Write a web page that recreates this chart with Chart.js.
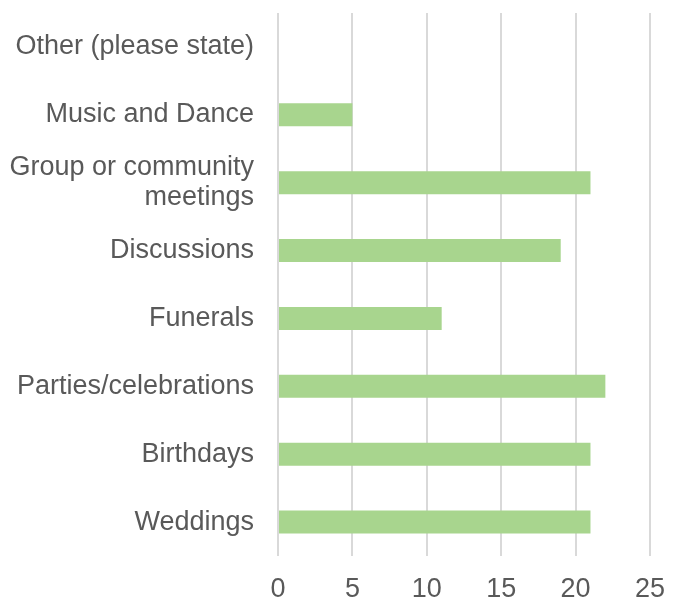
<!DOCTYPE html>
<html>
<head>
<meta charset="utf-8">
<script src="https://cdn.jsdelivr.net/npm/chart.js@4"></script>
<style>
html,body{margin:0;padding:0;background:#fff;overflow:hidden;}
#wrap{width:683px;height:599px;position:relative;}
</style>
</head>
<body>
<div id="wrap"><canvas id="c"></canvas></div>
<script>
const categories = [
  'Other (please state)',
  'Music and Dance',
  ['Group or community', 'meetings'],
  'Discussions',
  'Funerals',
  'Parties/celebrations',
  'Birthdays',
  'Weddings'
];
const counts = [0, 5, 21, 19, 11, 22, 21, 21];
const xTicks = [0, 5, 10, 15, 20, 25];

const ctx = document.getElementById('c');
new Chart(ctx, {
  type: 'bar',
  data: {
    labels: categories,
    datasets: [{
      data: counts,
      backgroundColor: '#a8d58e',
      borderWidth: 0,
      barPercentage: 0.34,
      categoryPercentage: 1.0
    }]
  },
  options: {
    indexAxis: 'y',
    responsive: true,
    maintainAspectRatio: false,
    animation: false,
    layout: { padding: { top: 13, right: 33, bottom: 0, left: 0 } },
    plugins: { legend: { display: false }, tooltip: { enabled: false } },
    scales: {
      x: {
        min: xTicks[0],
        max: xTicks[xTicks.length - 1],
        afterBuildTicks: (s) => { s.ticks = xTicks.map(v => ({ value: v })); },
        afterFit: (s) => { s.height = 43; s.paddingLeft = 0; s.paddingRight = 0; },
        border: { display: false },
        grid: { color: '#d9d9d9', lineWidth: 2, drawTicks: false },
        ticks: {
          padding: 17,
          color: '#595959',
          font: { family: 'Liberation Sans, Arial, sans-serif', size: 27 }
        }
      },
      y: {
        afterFit: (s) => { s.width = 278; s.paddingTop = 0; s.paddingBottom = 0; },
        border: { display: false },
        grid: { display: false, drawTicks: false },
        ticks: {
          padding: 24,
          color: '#595959',
          font: { family: 'Liberation Sans, Arial, sans-serif', size: 27, lineHeight: 1.1 }
        }
      }
    }
  }
});
</script>
</body>
</html>
